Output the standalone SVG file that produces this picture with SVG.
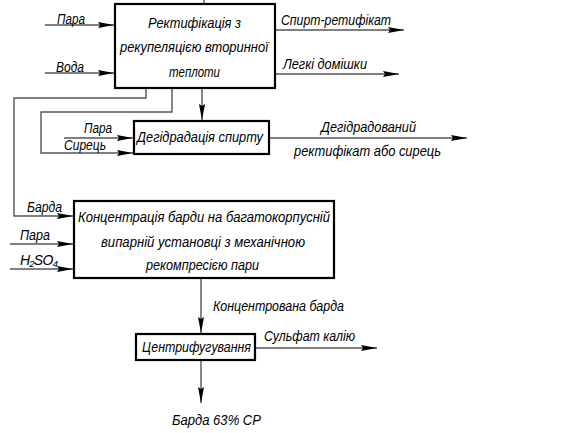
<svg xmlns="http://www.w3.org/2000/svg" width="565" height="433" viewBox="0 0 565 433">
<style>
text{font-family:"Liberation Sans",Arial,sans-serif;font-style:italic;font-size:14px;fill:#000}
.box{fill:#fff;stroke:#000;stroke-width:2.2}
.ln{fill:none;stroke:#555;stroke-width:1.4}
.c{text-anchor:middle}
</style>
<defs>
<marker id="ah" markerUnits="userSpaceOnUse" markerWidth="18" markerHeight="8" refX="16" refY="3" orient="auto">
<path d="M0,0 L16,3 L0,6 L2,3 z" fill="#000"/>
</marker>
</defs>
<rect width="565" height="433" fill="#fff"/>
<g id="connectors">
<line class="ln" x1="204" y1="0" x2="204" y2="4"/>
<line class="ln" x1="45" y1="25" x2="114" y2="25" marker-end="url(#ah)"/>
<line class="ln" x1="45" y1="73" x2="114" y2="73" marker-end="url(#ah)"/>
<line class="ln" x1="276" y1="30" x2="404" y2="30" marker-end="url(#ah)"/>
<line class="ln" x1="276" y1="74" x2="399" y2="74" marker-end="url(#ah)"/>
<path class="ln" d="M146,89 V98 H14 V216 H73" marker-end="url(#ah)"/>
<path class="ln" d="M172,89 V112 H41 V153 H133" marker-end="url(#ah)"/>
<line class="ln" x1="202" y1="89" x2="202" y2="120" marker-end="url(#ah)"/>
<line class="ln" x1="64" y1="138" x2="133" y2="138" marker-end="url(#ah)"/>
<line class="ln" x1="270" y1="138" x2="467" y2="138" marker-end="url(#ah)"/>
<line class="ln" x1="10" y1="244" x2="73" y2="244" marker-end="url(#ah)"/>
<line class="ln" x1="10" y1="269" x2="73" y2="269" marker-end="url(#ah)"/>
<line class="ln" x1="201" y1="279" x2="201" y2="333" marker-end="url(#ah)"/>
<line class="ln" x1="256" y1="348" x2="377" y2="348" marker-end="url(#ah)"/>
<line class="ln" x1="201" y1="361" x2="201" y2="403" marker-end="url(#ah)"/>
<text x="57" y="24" textLength="28" lengthAdjust="spacingAndGlyphs">Пара</text>
<text x="56" y="72" textLength="28" lengthAdjust="spacingAndGlyphs">Вода</text>
<text x="281" y="25" textLength="110" lengthAdjust="spacingAndGlyphs">Спирт-ретифікат</text>
<text x="283" y="69" textLength="84" lengthAdjust="spacingAndGlyphs">Легкі домішки</text>
<text x="84" y="133" textLength="28" lengthAdjust="spacingAndGlyphs">Пара</text>
<text x="64" y="150" textLength="42" lengthAdjust="spacingAndGlyphs">Сирець</text>
<text x="321" y="132" textLength="95" lengthAdjust="spacingAndGlyphs">Дегідрадований</text>
<text x="294" y="156" textLength="147" lengthAdjust="spacingAndGlyphs">ректифікат або сирець</text>
<text x="27" y="212" textLength="35" lengthAdjust="spacingAndGlyphs">Барда</text>
<text x="20" y="240" textLength="30" lengthAdjust="spacingAndGlyphs">Пара</text>
<text x="20" y="265" font-size="12" letter-spacing="-0.8">H₂SO₄</text>
<text x="213" y="311" textLength="131" lengthAdjust="spacingAndGlyphs">Концентрована барда</text>
<text x="264" y="341" textLength="91" lengthAdjust="spacingAndGlyphs">Сульфат калію</text>
<text x="172" y="425" textLength="89" lengthAdjust="spacingAndGlyphs">Барда 63%  СР</text>
</g>
<g id="rectification">
<rect class="box" x="115" y="4" width="160" height="84"/>
<text x="148" y="28" textLength="93" lengthAdjust="spacingAndGlyphs">Ректифікація з</text>
<text x="120" y="52" textLength="148" lengthAdjust="spacingAndGlyphs">рекупеляцією вторинної</text>
<text x="169" y="77" textLength="51" lengthAdjust="spacingAndGlyphs">теплоти</text>
</g>
<g id="dehydration">
<rect class="box" x="134" y="121" width="135" height="33"/>
<text x="137" y="142" textLength="126" lengthAdjust="spacingAndGlyphs">Дегідрадація спирту</text>
</g>
<g id="concentration">
<rect class="box" x="74" y="201" width="260" height="77"/>
<text x="78" y="222" textLength="252" lengthAdjust="spacingAndGlyphs">Концентрація барди на багатокорпусній</text>
<text x="101" y="247" textLength="204" lengthAdjust="spacingAndGlyphs">випарній установці з механічною</text>
<text x="146" y="270" textLength="113" lengthAdjust="spacingAndGlyphs">рекомпресією пари</text>
</g>
<g id="centrifuge">
<rect class="box" x="136" y="334" width="119" height="26"/>
<text x="142" y="352" textLength="109" lengthAdjust="spacingAndGlyphs">Центрифугування</text>
</g>
</svg>
